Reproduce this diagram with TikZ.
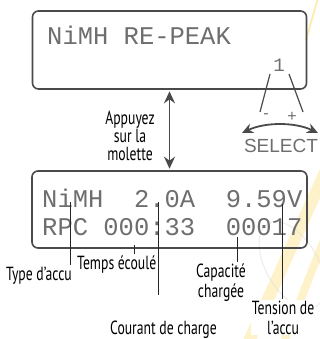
\documentclass[tikz,border=0pt]{standalone}
\usepackage{fontspec}
\usepackage{tikz}
\usetikzlibrary{arrows.meta}
\usetikzlibrary{positioning}

\newfontfamily\lcdfont{Liberation Mono}[RawFeature=+zero]
\newfontfamily\calloutfont{PT Sans}[FakeStretch=0.72]
\newfontfamily\knobfont{Liberation Sans}

\definecolor{lcdgray}{HTML}{6E6E6E}
\definecolor{framegray}{HTML}{4A4A4A}
\definecolor{markyellow}{HTML}{FDEDB4}
\definecolor{markgray}{HTML}{E2DDD2}

\begin{document}
\begin{tikzpicture}[
	x=1pt, y=-1pt,
	LcdBox/.style={draw=framegray,line width=1.6pt,rounded corners=6pt,inner sep=0pt},
	LcdText/.style={lcdgray,inner sep=0pt,anchor=base west,font=\lcdfont\fontsize{25.5}{30}\selectfont},
	KnobText/.style={lcdgray,inner sep=0pt,font=\knobfont\fontsize{16}{18}\selectfont},
	Pointer/.style={draw=black!85,line width=0.9pt},
	Callout/.style={fill=white,inner sep=1pt,align=center,font=\calloutfont\fontsize{19}{20}\selectfont},
	Watermark/.style={markyellow,line width=12pt,line cap=round,opacity=0.7}
	]
	\useasboundingbox (0,0) rectangle (320,339);
	
	% faint logo in the background
	\draw[Watermark] (335,150) -- (250,339);
	\draw[Watermark, line width=8pt] (330,225) -- (285,339);
	\draw[markyellow, line width=2pt] (318,-2) -- (306,40);
	\draw[markgray, line width=1.2pt, opacity=0.5, rotate around={-60:(292,265)}] (292,265) ellipse (48 and 26);
	
	% the two displays
	\node[LcdBox, minimum width=274pt, minimum height=78pt] (topLcd) at (169.5,50) {};
	\node[LcdBox, minimum width=275pt, minimum height=77pt] (botLcd) at (169.5,209.5) {};
	
	\node[LcdText] (peak) at (47,45) {NiMH RE-PEAK};
	\node[LcdText] (rowA) at (42,207) {NiMH~~2.0A~~9.59V};
	\node[LcdText] (rowB) at (42,235) {RPC~000:33~~00017};
	
	% press the knob
	\draw[framegray, line width=1.8pt, {Stealth[length=12pt,width=11pt]}-{Stealth[length=12pt,width=11pt]}]
		([yshift=-1.5pt]topLcd.south) -- ([yshift=1.5pt]botLcd.north);
	\node[inner sep=0pt, align=center, font=\calloutfont\fontsize{19}{18}\selectfont] (press) at (130,136) {Appuyez\\sur la\\molette};
	
	% turn the knob
	\node[KnobText, font=\lcdfont\fontsize{19}{20}\selectfont] (one) at (279,65) {1};
	\coordinate (minusTop) at (270,74);
	\coordinate (minusEnd) at (260,112);
	\coordinate (plusTop) at (289,74);
	\coordinate (plusEnd) at (303,112);
	\draw[framegray, line width=1.2pt] (minusTop) -- (minusEnd);
	\draw[framegray, line width=1.2pt] (plusTop) -- (plusEnd);
	\node[KnobText] (minus) at (266,116) {-};
	\node[KnobText] (plus) at (292,117) {+};
	\coordinate (selL) at (242,133);
	\coordinate (selR) at (318,133);
	\draw[framegray, line width=1.8pt, {Stealth[length=11pt,width=10pt]}-{Stealth[length=11pt,width=10pt]}]
		(selL) .. controls (265,122) and (295,122) .. (selR);
	\node[KnobText, anchor=base, font=\knobfont\fontsize{19}{20}\selectfont] (select) at (281,152) {SELECT};
	
	% what each field means
	\node[Callout, anchor=base east] (type) at (73,280) {Type d’accu};
	\node[Callout, anchor=base west] (temps) at (76,269) {Temps écoulé};
	\node[Callout, anchor=base] (courant) at (163.5,334) {Courant de charge};
	\node[Callout, anchor=base] (capa) at (221,297) {Capacité\\chargée};
	\node[Callout, anchor=base] (tension) at (283,334) {Tension de\\l’accu};
	
	\coordinate (pType) at (70,202);
	\coordinate (pTemps) at (134,245);
	\coordinate (pCourant) at (158,202);
	\coordinate (endCourant) at (158,295);
	\coordinate (pCapa) at (237,237);
	\coordinate (pTension) at (282,204);
	
	\draw[Pointer] (pType) -- (pType |- type.north);
	\draw[Pointer] (pTemps) -- (pTemps |- temps.north);
	\draw[Pointer] (pCourant) -- (endCourant);
	\draw[Pointer] (pCapa) -- (pCapa |- capa.north);
	\draw[Pointer] (pTension) -- (pTension |- tension.north);
	
\end{tikzpicture}
\end{document}
